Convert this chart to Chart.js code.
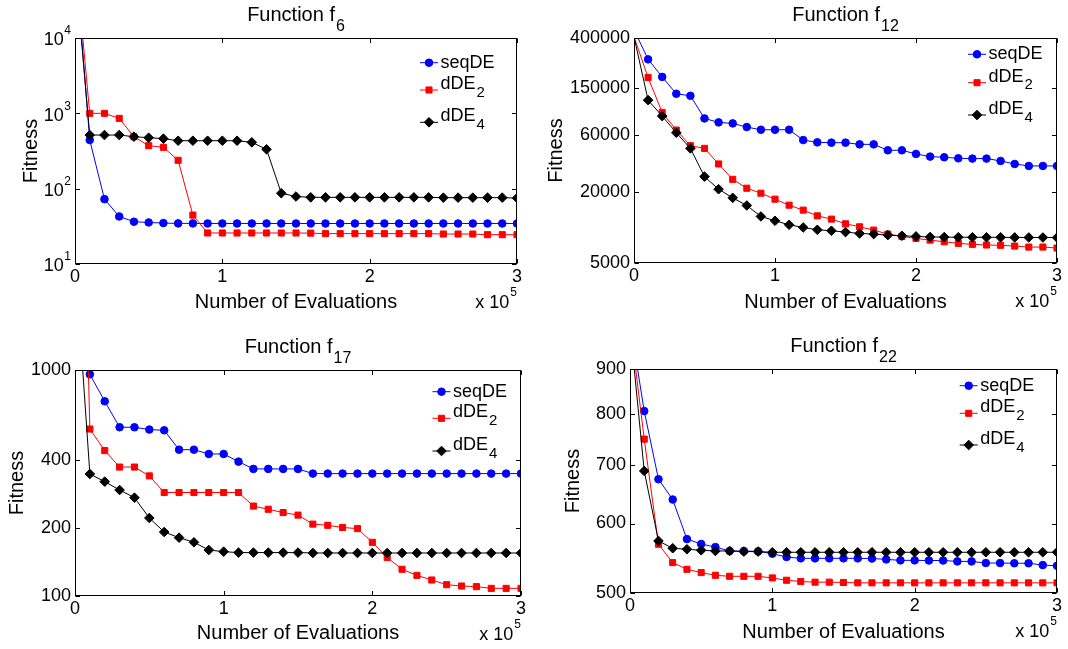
<!DOCTYPE html>
<html>
<head>
<meta charset="utf-8">
<script src="https://cdn.jsdelivr.net/npm/chart.js@4.4.0/dist/chart.umd.min.js"></script>
<style>
  body { margin: 0; background: #fff; }
  #wrap { position: relative; width: 1068px; height: 649px; background: #fff; }
  canvas { position: absolute; }
</style>
</head>
<body>
<div id="wrap">
  <canvas id="f6" width="534" height="320" style="left:0;top:0"></canvas>
  <canvas id="f12" width="534" height="320" style="left:534px;top:0"></canvas>
  <canvas id="f17" width="534" height="329" style="left:0;top:320px"></canvas>
  <canvas id="f22" width="534" height="329" style="left:534px;top:320px"></canvas>
</div>
<script>
// x values (number of evaluations)
const evaluations = [0, 10000, 20000, 30000, 40000, 50000, 60000, 70000, 80000, 90000, 100000,
    110000, 120000, 130000, 140000, 150000, 160000, 170000, 180000, 190000, 200000,
    210000, 220000, 230000, 240000, 250000, 260000, 270000, 280000, 290000, 300000];
const xTicks = [0, 100000, 200000, 300000];

const seriesNames = ['seqDE', 'dDE2', 'dDE4'];
const seriesColors = ['#0000ff', '#ff0000', '#000000'];
const markerStyles = ['circle', 'rect', 'rectRot'];
const markerSizes = [3.8, 4.3, 4.8];

// Function f6
const f6Seq = [130000, 443, 72.6, 42.8, 36.4, 35.6, 34.9, 34.6, 34.6, 34.5, 34.5, 34.5, 34.5, 34.5, 34.5, 34.5,
    34.5, 34.5, 34.5, 34.5, 34.5, 34.5, 34.5, 34.5, 34.5, 34.5, 34.5, 34.5, 34.5, 34.5, 34.5];
const f6DDE2 = [135000, 1000, 1000, 857, 490, 372, 354, 238, 44.6, 25.8, 25.8, 25.8, 25.8, 25.8, 25.8, 25.8,
    25.7, 25.3, 25.3, 25.3, 25.3, 25.3, 25.3, 25.3, 25.3, 25.0, 25.0, 25.0, 24.5, 24.5, 24.5];
const f6DDE4 = [90000, 515, 515, 515, 490, 475, 461, 433, 433, 433, 433, 433, 412, 333, 87, 78.7,
    76.7, 76.7, 76.7, 76.7, 76.7, 76.7, 76.7, 76.7, 76.7, 76.0, 76.0, 76.0, 76.0, 76.0, 75.0];
const f6Ticks = [10, 100, 1000, 10000];

// Function f12
const f12Seq = [470000, 264000, 187500, 135000, 129800, 83500, 77300, 75800, 70600, 67000, 67000,
    67000, 54800, 52400, 52100, 52100, 50400, 50400, 44900, 44900, 41800,
    39700, 39200, 38400, 38200, 38200, 36500, 34400, 33100, 33100, 33100];
const f12DDE2 = [410000, 185200, 93800, 66600, 49100, 46600, 34400, 25500, 21450, 19470, 17330,
    15420, 14000, 12530, 11750, 10730, 10120, 9490, 8780, 8390, 8070,
    7810, 7560, 7330, 7190, 7100, 7060, 6950, 6820, 6820, 6690];
const f12DDE4 = [410000, 119200, 87400, 63200, 46600, 26900, 21050, 17780, 15320, 12380, 11380,
    10520, 9990, 9550, 9370, 9130, 8890, 8780, 8610, 8500, 8390,
    8300, 8280, 8260, 8250, 8250, 8240, 8230, 8220, 8220, 8200];
const f12Ticks = [5000, 20000, 60000, 150000, 400000];

// Function f17
const f17Seq = [1700, 957, 727, 558, 558, 545, 541, 444, 444, 425, 425, 393, 365, 365, 365, 365,
    348, 348, 348, 348, 348, 348, 348, 348, 348, 348, 348, 348, 348, 348, 348];
const f17DDE2 = [200000, 548, 440, 372, 372, 340, 287, 287, 287, 287, 287, 287, 250, 242, 234, 228,
    208, 205.5, 201, 198.7, 172.8, 147.9, 131.3, 123.4, 117.7, 112.2, 110.7, 110.0, 108.1, 108.1, 108.1];
const f17DDE4 = [3150, 346.6, 320.6, 294.4, 272.4, 221.4, 191.9, 181.2, 172.8, 159.8, 157.1,
    155.6, 155.6, 155.6, 155.6, 155.6, 155, 155, 155, 155, 155, 155, 155, 155, 155, 155, 155, 155, 155, 155, 155];
const f17Ticks = [100, 200, 400, 1000];

// Function f22
const f22Seq = [1019, 806, 674, 639, 576, 568.6, 564, 558.2, 558.2, 557.7, 554.3, 549.5, 547.6, 547.6, 547.6, 547.6,
    547.6, 547.3, 546.1, 544.7, 544.7, 544.5, 544.5, 543.2, 543.2, 540.9, 540.9, 540.6, 540.6, 538, 537];
const f22DDE2 = [1017, 748.8, 568.2, 541.5, 532.1, 527.5, 523.8, 522.4, 522.4, 522.4, 520.2, 517, 515.3, 514.4, 514.4, 514,
    513.5, 513.5, 513.5, 513.5, 513.5, 513.5, 513.5, 513.5, 513.5, 513.5, 513.5, 513.5, 513.5, 513.5, 513.5];
const f22DDE4 = [1009, 688.7, 573.2, 562.3, 560.8, 559.3, 558.3, 558.3, 557.4, 557.4, 556.4,
    556.4, 556.4, 556.4, 556.4, 556.4, 556.4, 556.4, 556.4, 556.4, 556.4,
    556.4, 556.4, 556.4, 556.4, 556.4, 556.4, 556.4, 556.4, 556.4, 556.4];
const f22Ticks = [500, 600, 700, 800, 900];

const FONT = '"Liberation Sans", Arial, Helvetica, sans-serif';

const drawMarker = (ctx, style, x, y, r, color) => {
    ctx.fillStyle = color;
    ctx.strokeStyle = color;
    ctx.beginPath();
    if (style === 'circle') {
        ctx.arc(x, y, r, 0, Math.PI * 2);
    } else if (style === 'rect') {
        const s = r * Math.SQRT1_2;
        ctx.rect(x - s, y - s, 2 * s, 2 * s);
    } else {
        ctx.moveTo(x - r, y);
        ctx.lineTo(x, y - r);
        ctx.lineTo(x + r, y);
        ctx.lineTo(x, y + r);
        ctx.closePath();
    }
    ctx.fill();
    ctx.stroke();
};

// box, inward ticks, title, legend, exponent labels (matlab style)
const matlabLook = {
    id: 'matlabLook',
    afterDraw(chart, args, o) {
        const ctx = chart.ctx;
        const a = chart.chartArea;
        const xs = chart.scales.x;
        const ys = chart.scales.y;
        const L = Math.round(a.left) + 0.5, R = Math.round(a.right) - 0.5;
        const T = Math.round(a.top) + 0.5, B = Math.round(a.bottom) - 0.5;
        ctx.save();
        ctx.strokeStyle = '#000';
        ctx.lineWidth = 1;
        ctx.strokeRect(L, T, R - L, B - T);
        ctx.beginPath();
        o.yTicks.forEach((v) => {
            const y = Math.round(ys.getPixelForValue(v)) + 0.5;
            ctx.moveTo(L, y); ctx.lineTo(L + 4.5, y);
            ctx.moveTo(R, y); ctx.lineTo(R - 4.5, y);
        });
        xTicks.forEach((v) => {
            const x = Math.round(xs.getPixelForValue(v)) + 0.5;
            ctx.moveTo(x, B); ctx.lineTo(x, B - 4.5);
            ctx.moveTo(x, T); ctx.lineTo(x, T + 4.5);
        });
        ctx.stroke();

        ctx.fillStyle = '#000';
        ctx.textBaseline = 'middle';
        ctx.textAlign = 'left';

        // title with subscript
        ctx.font = '20px ' + FONT;
        const w1 = ctx.measureText(o.title).width;
        ctx.font = '16px ' + FONT;
        const w2 = ctx.measureText(o.titleSub).width;
        const x0 = (a.left + a.right) / 2 - (w1 + w2 + 1) / 2;
        ctx.font = '20px ' + FONT;
        ctx.fillText(o.title, x0, a.top - 23);
        ctx.font = '16px ' + FONT;
        ctx.fillText(o.titleSub, x0 + w1 + 1, a.top - 11.5);

        // x 10^5
        ctx.textAlign = 'right';
        ctx.font = '12px ' + FONT;
        ctx.fillText('5', a.right, a.bottom + 29);
        const w5 = ctx.measureText('5').width;
        ctx.font = '18px ' + FONT;
        ctx.fillText('x 10', a.right - w5 - 1, a.bottom + 39);

        // power-of-ten tick labels
        if (o.powerTicks) {
            o.yTicks.forEach((v) => {
                const y = ys.getPixelForValue(v);
                const e = String(Math.round(Math.log10(v)));
                ctx.font = '12px ' + FONT;
                ctx.fillText(e, a.left - 4, y - 7);
                const we = ctx.measureText(e).width;
                ctx.font = '18px ' + FONT;
                ctx.fillText('10', a.left - 4 - we - 0.5, y + 2.5);
            });
        }

        // legend
        ctx.textAlign = 'left';
        seriesNames.forEach((name, i) => {
            const my = o.legendY[i];
            const mx = o.legendX;
            const color = seriesColors[i];
            ctx.strokeStyle = color;
            ctx.beginPath();
            ctx.moveTo(mx - 9, my);
            ctx.lineTo(mx + 9, my);
            ctx.stroke();
            drawMarker(ctx, markerStyles[i], mx, my, markerSizes[i], color);
            ctx.fillStyle = '#000';
            const m = name.match(/^(.*?)(\d*)$/);
            ctx.font = '18px ' + FONT;
            if (m[2]) {
                ctx.fillText(m[1], mx + 11.5, my - 6);
                const wm = ctx.measureText(m[1]).width;
                ctx.font = '15px ' + FONT;
                ctx.fillText(m[2], mx + 11.5 + wm + 1, my + 2.5);
            } else {
                ctx.fillText(m[1], mx + 11.5, my);
            }
        });
        ctx.restore();
    },
};

const makeChart = (id, series, yTicks, p) => {
    new Chart(document.getElementById(id), {
        type: 'line',
        data: {
            datasets: series.map((vals, i) => ({
                label: seriesNames[i],
                data: vals.map((v, j) => ({ x: evaluations[j], y: v })),
                borderColor: seriesColors[i],
                backgroundColor: seriesColors[i],
                borderWidth: 1,
                pointStyle: markerStyles[i],
                pointRadius: (c) => (c.dataIndex === 0 ? 0 : markerSizes[i]),
                pointBorderWidth: 1,
                tension: 0,
                order: 3 - i,
            })),
        },
        options: {
            responsive: false,
            animation: false,
            events: [],
            layout: { padding: { left: 0, top: p.top, right: p.right, bottom: 0 } },
            plugins: {
                legend: { display: false },
                tooltip: { enabled: false },
                matlabLook: {
                    title: 'Function f',
                    titleSub: p.sub,
                    yTicks: yTicks,
                    powerTicks: !!p.powerTicks,
                    legendX: p.legendX,
                    legendY: p.legendY,
                },
            },
            scales: {
                x: {
                    type: 'linear',
                    min: 0,
                    max: 300000,
                    afterBuildTicks: (s) => { s.ticks = xTicks.map((v) => ({ value: v })); },
                    afterFit: (s) => { s.height = p.xHeight; },
                    grid: { display: false, drawTicks: false },
                    border: { display: false },
                    ticks: {
                        padding: 2,
                        color: '#000',
                        autoSkip: false,
                        maxRotation: 0,
                        font: { size: 18, family: FONT },
                        callback: (v) => String(v / 100000),
                    },
                    title: {
                        display: true,
                        text: 'Number of Evaluations',
                        color: '#000',
                        font: { size: 20, family: FONT },
                        padding: { top: 0, bottom: p.xTitlePad },
                    },
                },
                y: {
                    type: 'logarithmic',
                    min: yTicks[0],
                    max: yTicks[yTicks.length - 1],
                    afterBuildTicks: (s) => { s.ticks = yTicks.map((v) => ({ value: v })); },
                    afterFit: (s) => { s.width = p.yWidth; },
                    grid: { display: false, drawTicks: false },
                    border: { display: false },
                    ticks: {
                        display: !p.powerTicks,
                        padding: 4,
                        color: '#000',
                        autoSkip: false,
                        font: { size: 18, family: FONT },
                        callback: (v) => String(v),
                    },
                    title: {
                        display: true,
                        text: 'Fitness',
                        color: '#000',
                        font: { size: 20, family: FONT },
                        padding: { top: p.yTitlePad, bottom: 0 },
                    },
                },
            },
        },
        plugins: [matlabLook],
    });
};

makeChart('f6', [f6Seq, f6DDE2, f6DDE4], f6Ticks, {
    sub: '6', powerTicks: true, top: 38, right: 17, yWidth: 75, xHeight: 56,
    xTitlePad: 6, yTitlePad: 19, legendX: 429, legendY: [62.7, 90, 122.3],
});
makeChart('f12', [f12Seq, f12DDE2, f12DDE4], f12Ticks, {
    sub: '12', top: 38, right: 11, yWidth: 100, xHeight: 57,
    xTitlePad: 6, yTitlePad: 10, legendX: 443, legendY: [54.3, 82.7, 115],
});
makeChart('f17', [f17Seq, f17DDE2, f17DDE4], f17Ticks, {
    sub: '17', top: 50, right: 13, yWidth: 75, xHeight: 53,
    xTitlePad: 4, yTitlePad: 5, legendX: 441.5, legendY: [71.7, 98.3, 131],
});
makeChart('f22', [f22Seq, f22DDE2, f22DDE4], f22Ticks, {
    sub: '22', top: 49, right: 11, yWidth: 96, xHeight: 56,
    xTitlePad: 5, yTitlePad: 27, legendX: 434.7, legendY: [65.7, 93.3, 125],
});
</script>
</body>
</html>
